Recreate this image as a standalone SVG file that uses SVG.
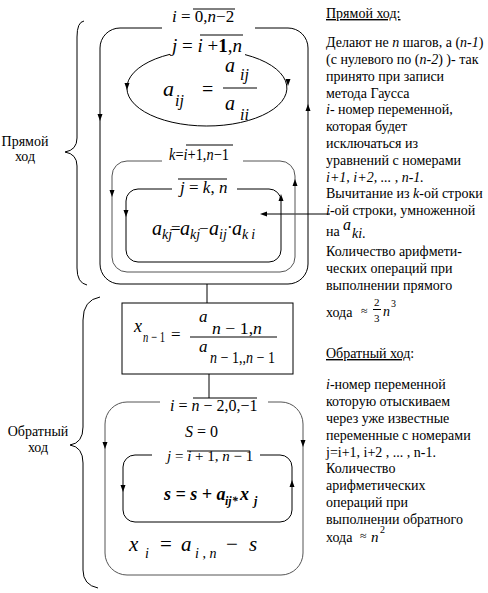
<svg xmlns="http://www.w3.org/2000/svg" width="488" height="593" viewBox="0 0 488 593" font-family="'Liberation Serif', Tinos, 'Times New Roman', 'DejaVu Serif', serif">
<style>
text{font-family:"Liberation Serif",Tinos,"Times New Roman","DejaVu Serif",serif;fill:#000}
.t{font-size:14px}
.i{font-style:italic}
.b{font-weight:bold}
.ln{fill:none;stroke:#000;stroke-width:1}
.gl{fill:none;stroke:#555;stroke-width:1}
.ah{fill:#000}
</style>
<defs><path id="ah" d="M0,4 L-2.5,-3 L2.5,-3 Z"/></defs>
<rect width="488" height="593" fill="#fff"/>

<g id="connectors">
  <path class="ln" d="M84,21 Q77,22 77,37 V138 Q77,150 65,152 Q77,154 77,166 V268 Q77,283 87,285"/>
  <path class="ln" d="M100,297 Q83,300 83,320 V427 Q83,443 70,445 Q83,447 83,463 V570 Q83,585 98,588"/>
  <line class="ln" x1="207" y1="284" x2="207" y2="303"/>
  <line class="ln" x1="209" y1="374" x2="209" y2="398"/>
  <line class="ln" x1="330" y1="214" x2="266" y2="214"/>
  <use href="#ah" class="ah" transform="translate(264,214) rotate(90)"/>
</g>

<g id="outer-forward">
  <path class="ln" d="M162,28 H120 A20,20 0 0 0 100,48 V264 A20,20 0 0 0 120,284 H288 A20,20 0 0 0 308,264 V48 A20,20 0 0 0 288,28 H255"/>
  <use href="#ah" class="ah" transform="translate(100,117)"/>
  <use href="#ah" class="ah" transform="translate(308,108) rotate(180)"/>
  <text x="172" y="22" font-size="17"><tspan class="i">i</tspan> = 0,<tspan class="i">n</tspan>−2</text>
  <line class="ln" x1="193" y1="9" x2="235" y2="9"/>
</g>

<g id="ellipse-loop">
  <path class="ln" d="M170,54.3 A80,38 0 1 0 245,54.6"/>
  <use href="#ah" class="ah" transform="translate(127,86)"/>
  <use href="#ah" class="ah" transform="translate(288,82)"/>
  <text x="172" y="52" font-size="19"><tspan class="i">j</tspan> = <tspan class="i">i</tspan> +<tspan class="b">1</tspan>,<tspan class="i">n</tspan></text>
  <line class="ln" x1="200" y1="35" x2="243" y2="35"/>
  <text x="163" y="96" font-size="22" class="i">a</text>
  <text x="175" y="106" font-size="16" class="i">ij</text>
  <text x="202" y="96" font-size="20">=</text>
  <text x="225" y="72" font-size="20" class="i">a</text>
  <text x="240" y="80" font-size="16" class="i">ij</text>
  <line class="ln" x1="223" y1="88" x2="257" y2="88"/>
  <text x="225" y="110" font-size="20" class="i">a</text>
  <text x="240" y="120" font-size="16" class="i">ii</text>
</g>

<g id="k-loop">
  <path class="gl" d="M162,161 H127 A15,15 0 0 0 112,176 V257 A15,15 0 0 0 127,272 H280 A15,15 0 0 0 295,257 V176 A15,15 0 0 0 280,161 H243"/>
  <use href="#ah" class="ah" transform="translate(112,193)"/>
  <use href="#ah" class="ah" transform="translate(295,183) rotate(180)"/>
  <text x="169" y="160" font-size="17" textLength="60" lengthAdjust="spacingAndGlyphs"><tspan class="i">k</tspan>=<tspan class="i">i</tspan>+1,<tspan class="i">n</tspan>−1</text>
  <line class="ln" x1="186" y1="145" x2="233" y2="145"/>
</g>

<g id="j-loop">
  <path class="ln" d="M172,189 H138 A12,12 0 0 0 126,201 V250 A12,12 0 0 0 138,262 H269 A12,12 0 0 0 281,250 V201 A12,12 0 0 0 269,189 H237"/>
  <use href="#ah" class="ah" transform="translate(126,213)"/>
  <use href="#ah" class="ah" transform="translate(281,198) rotate(180)"/>
  <text x="180" y="193" font-size="17"><tspan class="i">j</tspan> = <tspan class="i">k</tspan>, <tspan class="i">n</tspan></text>
  <line class="ln" x1="178" y1="179" x2="227" y2="179"/>
  <g class="i">
    <text x="152" y="235" font-size="20">a</text><text x="162" y="239" font-size="14">kj</text>
    <text x="171" y="234" font-size="17" font-style="normal">=</text>
    <text x="180" y="235" font-size="20">a</text><text x="190" y="239" font-size="14">kj</text>
    <text x="199" y="234" font-size="17" font-style="normal">−</text>
    <text x="209" y="235" font-size="20">a</text><text x="219" y="239" font-size="14">ij</text>
    <text x="227" y="233" font-size="17" font-style="normal">·</text>
    <text x="232" y="235" font-size="20">a</text><text x="242" y="239" font-size="14" letter-spacing="3">ki</text>
  </g>
</g>

<g id="xn-box">
  <rect class="ln" x="122" y="303" width="171" height="71"/>
  <text x="134" y="332" font-size="18" class="i">x</text>
  <text x="143" y="342" font-size="15" textLength="22" lengthAdjust="spacingAndGlyphs"><tspan class="i">n</tspan> − 1</text>
  <text x="171" y="340" font-size="17">=</text>
  <text x="199" y="322" font-size="17" class="i">a</text>
  <text x="212" y="334" font-size="16" textLength="50" lengthAdjust="spacingAndGlyphs"><tspan class="i">n</tspan> − 1,<tspan class="i">n</tspan></text>
  <line class="ln" x1="190" y1="337" x2="277" y2="337"/>
  <text x="199" y="352" font-size="17" class="i">a</text>
  <text x="210" y="363" font-size="16" textLength="65" lengthAdjust="spacingAndGlyphs"><tspan class="i">n</tspan> − 1,,<tspan class="i">n</tspan> − 1</text>
</g>

<g id="outer-backward">
  <path class="gl" d="M160,402 H127 A22,22 0 0 0 105,424 V553 A22,22 0 0 0 127,575 H281 A22,22 0 0 0 303,553 V424 A22,22 0 0 0 281,402 H268"/>
  <use href="#ah" class="ah" transform="translate(105,445)"/>
  <use href="#ah" class="ah" transform="translate(303,443)"/>
  <text x="170" y="411" font-size="16"><tspan class="i">i</tspan> = <tspan class="i">n</tspan> − 2,0,−1</text>
  <line class="ln" x1="193" y1="398" x2="257" y2="398"/>
  <text x="185" y="437" font-size="16"><tspan class="i">S</tspan> = 0</text>
  <text x="129" y="551" font-size="21" class="i">x</text>
  <text x="145" y="558" font-size="14" class="i">i</text>
  <text x="160" y="551" font-size="21">=</text>
  <text x="181" y="551" font-size="21" class="i">a</text>
  <text x="195" y="558" font-size="14"><tspan class="i">i</tspan> , <tspan class="i">n</tspan></text>
  <text x="226" y="551" font-size="21">−</text>
  <text x="249" y="551" font-size="21" class="i">s</text>
</g>

<g id="inner-backward">
  <path class="ln" d="M152,455 H135 A12,12 0 0 0 123,467 V510 A12,12 0 0 0 135,522 H280 A12,12 0 0 0 292,510 V467 A12,12 0 0 0 280,455 H260"/>
  <use href="#ah" class="ah" transform="translate(123,488)"/>
  <use href="#ah" class="ah" transform="translate(292,484) rotate(180)"/>
  <text x="167" y="461" font-size="15"><tspan class="i">j</tspan> = <tspan class="i">i</tspan> + 1, <tspan class="i">n</tspan> − 1</text>
  <line class="ln" x1="187" y1="451" x2="250" y2="451"/>
  <text x="164" y="500" font-size="18" class="b i">s = s + a</text>
  <text x="225" y="505" font-size="12" class="b i">ij*</text>
  <text x="240" y="500" font-size="18" class="b i">x</text>
  <text x="254" y="505" font-size="12" class="b i">j</text>
</g>

<g id="labels-left" class="t">
  <text x="25" y="146" text-anchor="middle">Прямой</text>
  <text x="25" y="161" text-anchor="middle">ход</text>
  <text x="38" y="436" text-anchor="middle">Обратный</text>
  <text x="38" y="452" text-anchor="middle">ход</text>
</g>

<g id="notes" class="t">
  <text x="326" y="18"><tspan text-decoration="underline">Прямой ход:</tspan></text>
  <text x="326" y="47">Делают не <tspan class="i">n</tspan> шагов, а (<tspan class="i">n-1</tspan>)</text>
  <text x="326" y="64">(с нулевого по (<tspan class="i">n-2</tspan>) )- так</text>
  <text x="326" y="81">принято при записи</text>
  <text x="326" y="98">метода Гаусса</text>
  <text x="326" y="114"><tspan class="i">i</tspan>- номер переменной,</text>
  <text x="326" y="131">которая будет</text>
  <text x="326" y="148">исключаться из</text>
  <text x="326" y="165">уравнений с номерами</text>
  <text x="326" y="182" class="i">i+1, i+2, ... , n-1.</text>
  <text x="326" y="198">Вычитание из <tspan class="i">k</tspan>-ой строки</text>
  <text x="326" y="215"><tspan class="i">i</tspan>-ой строки, умноженной</text>
  <text x="326" y="236">на</text>
  <text x="343" y="230" font-size="16" class="i">a</text>
  <text x="352" y="238" font-size="14" class="i">ki</text>
  <text x="362" y="238">.</text>
  <text x="326" y="256">Количество арифмети-</text>
  <text x="326" y="273">ческих операций при</text>
  <text x="326" y="290">выполнении прямого</text>
  <text x="326" y="317">хода</text>
  <text x="361" y="315" font-size="12">≈</text>
  <text x="374" y="306" font-size="11">2</text>
  <line class="ln" x1="373" y1="309.5" x2="381" y2="309.5"/>
  <text x="374" y="322" font-size="11">3</text>
  <text x="383" y="316" font-size="14" class="i">n</text>
  <text x="391" y="307" font-size="10">3</text>

  <text x="326" y="358"><tspan text-decoration="underline">Обратный ход</tspan>:</text>
  <text x="326" y="389"><tspan class="i">i</tspan>-номер переменной</text>
  <text x="326" y="406">которую отыскиваем</text>
  <text x="326" y="423">через уже известные</text>
  <text x="326" y="440">переменные с номерами</text>
  <text x="326" y="457">j=i+1, i+2 , ... , n-1.</text>
  <text x="326" y="473">Количество</text>
  <text x="326" y="490">арифметических</text>
  <text x="326" y="507">операций при</text>
  <text x="326" y="524">выполнении обратного</text>
  <text x="326" y="542">хода</text>
  <text x="360" y="540" font-size="12">≈</text>
  <text x="371" y="542" font-size="15" class="i">n</text>
  <text x="380" y="533" font-size="10">2</text>
</g>
</svg>
